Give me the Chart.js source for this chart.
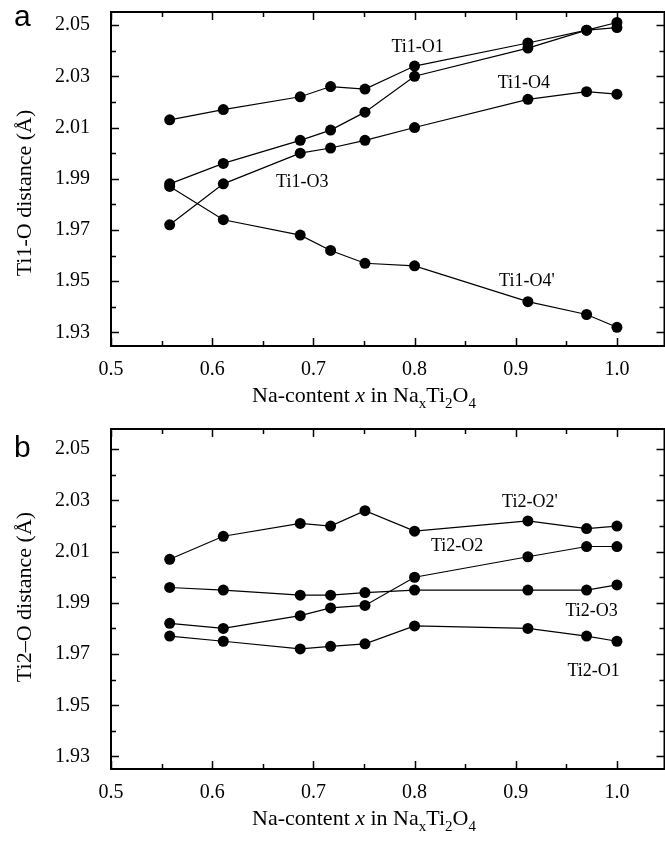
<!DOCTYPE html>
<html>
<head>
<meta charset="utf-8">
<script src="https://cdn.jsdelivr.net/npm/chart.js@4.4.0/dist/chart.umd.min.js"></script>
<style>
  html, body { margin: 0; padding: 0; background: #fff; overflow: hidden; width: 665px; height: 841px; }
  .panel { position: absolute; left: 0; width: 670px; }
  #panelA { top: 0; height: 412px; }
  #panelB { top: 400px; height: 441px; }
</style>
</head>
<body>
<div class="panel" id="panelA"><canvas id="chartA"></canvas></div>
<div class="panel" id="panelB"><canvas id="chartB"></canvas></div>
<script>
// Na content x in NaxTi2O4 (shared by both panels)
const naContent = [0.558, 0.611, 0.687, 0.717, 0.751, 0.8, 0.912, 0.97, 1.0];

const xTicks = [0.5, 0.6, 0.7, 0.8, 0.9, 1.0];
const xMinorTicks = [0.55, 0.65, 0.75, 0.85, 0.95];
const yTicks = [1.93, 1.95, 1.97, 1.99, 2.01, 2.03, 2.05];
const yMinorTicks = [1.94, 1.96, 1.98, 2.00, 2.02, 2.04];

// panel a: Ti1-O distances (Å)
const ti1O1 = [2.013, 2.017, 2.022, 2.026, 2.025, 2.034, 2.043, 2.048, 2.051];
const ti1O3 = [1.988, 1.996, 2.005, 2.009, 2.016, 2.030, 2.041, 2.048, 2.049];
const ti1O4 = [1.972, 1.988, 2.000, 2.002, 2.005, 2.010, 2.021, 2.024, 2.023];
const ti1O4p = [1.987, 1.974, 1.968, 1.962, 1.957, 1.956, 1.942, 1.937, 1.932];

const ti1LabelText = ['Ti1-O1', 'Ti1-O4', 'Ti1-O3', "Ti1-O4'"];
const ti1LabelX = [0.803, 0.908, 0.689, 0.911];
const ti1LabelY = [2.0415, 2.0272, 1.9888, 1.9498];

// panel b: Ti2-O distances (Å)
const ti2O2p = [2.007, 2.016, 2.021, 2.020, 2.026, 2.018, 2.022, 2.019, 2.020];
const ti2O2 = [1.982, 1.980, 1.985, 1.988, 1.989, 2.000, 2.008, 2.012, 2.012];
const ti2O3 = [1.996, 1.995, 1.993, 1.993, 1.994, 1.995, 1.995, 1.995, 1.997];
const ti2O1 = [1.977, 1.975, 1.972, 1.973, 1.974, 1.981, 1.980, 1.977, 1.975];

const ti2LabelText = ["Ti2-O2'", 'Ti2-O2', 'Ti2-O3', 'Ti2-O1'];
const ti2LabelX = [0.914, 0.842, 0.975, 0.977];
const ti2LabelY = [2.0292, 2.012, 1.9866, 1.9632];

const SERIF = '"Liberation Serif", "Times New Roman", serif';

// frame, inward ticks and all the free text
const figureText = {
  id: 'figureText',
  afterDraw(chart, args, opts) {
    const ctx = chart.ctx;
    const {left, right, top, bottom} = chart.chartArea;
    const xs = chart.scales.x;
    const ys = chart.scales.y;
    ctx.save();
    ctx.strokeStyle = '#000';
    ctx.lineWidth = 2;
    ctx.strokeRect(left, top, right - left, bottom - top);

    ctx.lineWidth = 1.5;
    ctx.beginPath();
    const xMarks = (vals, len) => vals.forEach(v => {
      const px = Math.round(xs.getPixelForValue(v)) + 0.5;
      ctx.moveTo(px, bottom); ctx.lineTo(px, bottom - len);
      ctx.moveTo(px, top); ctx.lineTo(px, top + len);
    });
    const yMarks = (vals, len) => vals.forEach(v => {
      const py = Math.round(ys.getPixelForValue(v)) + 0.5;
      ctx.moveTo(left, py); ctx.lineTo(left + len, py);
      ctx.moveTo(right, py); ctx.lineTo(right - len, py);
    });
    xMarks(xTicks, 8);
    xMarks(xMinorTicks, 5);
    yMarks(yTicks, 8);
    yMarks(yMinorTicks, 5);
    ctx.stroke();

    ctx.fillStyle = '#000';

    // curve labels
    ctx.font = '18px ' + SERIF;
    ctx.textAlign = 'center';
    ctx.textBaseline = 'middle';
    opts.labelText.forEach((t, i) => {
      ctx.fillText(t, xs.getPixelForValue(opts.labelX[i]), ys.getPixelForValue(opts.labelY[i]));
    });

    // panel letter
    ctx.font = '30px "Liberation Sans", Arial, sans-serif';
    ctx.textAlign = 'left';
    ctx.textBaseline = 'alphabetic';
    ctx.fillText(opts.letter, 14, top + opts.letterDy);

    // y axis title
    ctx.save();
    ctx.translate(25, top + opts.yTitleDy);
    ctx.rotate(-Math.PI / 2);
    ctx.font = '22px ' + SERIF;
    ctx.textAlign = 'center';
    ctx.textBaseline = 'middle';
    ctx.fillText(opts.yTitle, 0, 0);
    ctx.restore();

    // x axis title with subscripts
    const big = '22px ' + SERIF;
    const ital = 'italic 22px ' + SERIF;
    const small = '15px ' + SERIF;
    const parts = [
      ['Na-content ', big, 0], ['x', ital, 0], [' in Na', big, 0], ['x', small, 6],
      ['Ti', big, 0], ['2', small, 6], ['O', big, 0], ['4', small, 6]
    ];
    let total = 0;
    parts.forEach(p => { ctx.font = p[1]; total += ctx.measureText(p[0]).width; });
    const cx = (xs.getPixelForValue(xTicks[0]) + xs.getPixelForValue(xTicks[xTicks.length - 1])) / 2;
    let x = cx - total / 2;
    const base = bottom + 56;
    ctx.textAlign = 'left';
    ctx.textBaseline = 'alphabetic';
    parts.forEach(p => {
      ctx.font = p[1];
      ctx.fillText(p[0], x, base + p[2]);
      x += ctx.measureText(p[0]).width;
    });
    ctx.restore();
  }
};

function makePanel(canvasId, seriesList, panel) {
  const datasets = seriesList.map(vals => ({
    data: naContent.map((x, i) => ({x: x, y: vals[i]})),
    borderColor: '#000',
    borderWidth: 1.2,
    pointRadius: 5.5,
    pointBackgroundColor: '#000',
    pointBorderColor: '#000',
    pointBorderWidth: 0,
    fill: false,
    tension: 0
  }));

  return new Chart(document.getElementById(canvasId), {
    type: 'line',
    data: {datasets: datasets},
    options: {
      responsive: true,
      maintainAspectRatio: false,
      animation: false,
      layout: {padding: {left: 0, right: 4, top: panel.padTop, bottom: 0}},
      plugins: {
        legend: {display: false},
        tooltip: {enabled: false},
        figureText: panel
      },
      scales: {
        x: {
          type: 'linear',
          min: 0.5,
          max: 1.047,
          grid: {display: false},
          border: {display: false},
          afterBuildTicks: s => { s.ticks = xTicks.map(v => ({value: v})); },
          afterFit: s => { s.height = panel.xAxisH; s.paddingLeft = 0; s.paddingRight = 0; },
          ticks: {
            autoSkip: false,
            maxRotation: 0,
            padding: 4,
            color: '#000',
            font: {family: SERIF, size: 20},
            callback: v => v.toFixed(1)
          }
        },
        y: {
          min: panel.yMin,
          max: panel.yMax,
          grid: {display: false},
          border: {display: false},
          afterBuildTicks: s => { s.ticks = yTicks.map(v => ({value: v})); },
          afterFit: s => { s.width = 111; s.paddingTop = 0; s.paddingBottom = 0; },
          ticks: {
            padding: 13,
            color: '#000',
            font: {family: SERIF, size: 20},
            callback: v => v.toFixed(2)
          }
        }
      }
    },
    plugins: [figureText]
  });
}

makePanel('chartA', [ti1O1, ti1O3, ti1O4, ti1O4p], {
  padTop: 12, xAxisH: 66, yMin: 1.9247, yMax: 2.0551,
  letter: 'a', letterDy: 14, yTitle: 'Ti1-O distance (Å)', yTitleDy: 181,
  labelText: ti1LabelText, labelX: ti1LabelX, labelY: ti1LabelY
});

makePanel('chartB', [ti2O2p, ti2O2, ti2O3, ti2O1], {
  padTop: 29, xAxisH: 72, yMin: 1.9251, yMax: 2.0579,
  letter: 'b', letterDy: 28, yTitle: 'Ti2\u2013O distance (Å)', yTitleDy: 168,
  labelText: ti2LabelText, labelX: ti2LabelX, labelY: ti2LabelY
});
</script>
</body>
</html>
